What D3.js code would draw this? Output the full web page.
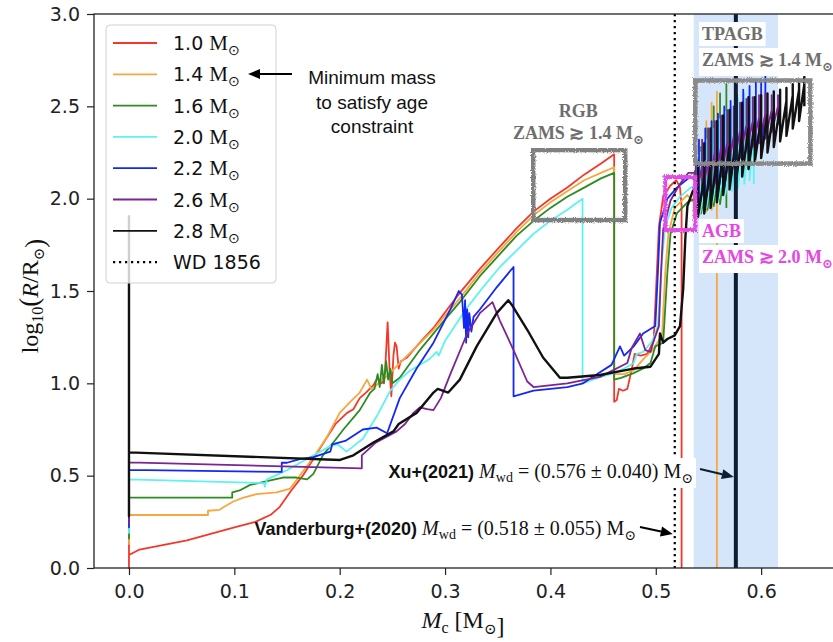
<!DOCTYPE html>
<html lang="en">
<head>
<meta charset="utf-8">
<title>Core mass vs radius</title>
<style>
body { margin: 0; background: #fff; }
svg { display: block; overflow: hidden; }
.tick text { font-family: "DejaVu Sans", sans-serif; font-size: 19px; fill: #222; }
.tick line { stroke: #222; stroke-width: 1.2; }
.serif { font-family: "Liberation Serif", "DejaVu Serif", serif; }
.sans { font-family: "Liberation Sans", Arial, sans-serif; }
</style>
</head>
<body>
<div id="chart"></div>
<script src="https://d3js.org/d3.v7.min.js"></script>
<script>
// initial masses and colours (legend order = drawing order)
const masses = ["1.0", "1.4", "1.6", "2.0", "2.2", "2.6", "2.8"];
const colors = ["#f5372a", "#f7a740", "#2e8b22", "#5ef2f2", "#1428f5", "#7b2595", "#111111"];

// [Mc, log10 R], pre-main-sequence spike through early AGB
const track10 = [[0,0.60],[0,0.0],[0,0.07],[0.01,0.10],[0.055,0.15],[0.10,0.22],[0.12,0.25],[0.135,0.29],[0.143,0.33],[0.154,0.42],[0.165,0.50],[0.176,0.60],[0.186,0.69],[0.196,0.78],[0.207,0.84],[0.213,0.86],[0.219,0.92],[0.225,0.95],[0.232,0.99],[0.236,1.03],[0.240,1.00],[0.243,1.06],[0.2455,1.33],[0.2475,1.05],[0.249,0.93],[0.251,1.15],[0.2525,1.22],[0.254,1.20],[0.256,1.08],[0.258,1.12],[0.264,1.14],[0.276,1.22],[0.289,1.30],[0.302,1.40],[0.314,1.49],[0.333,1.62],[0.352,1.74],[0.368,1.84],[0.384,1.93],[0.400,2.00],[0.416,2.06],[0.432,2.13],[0.448,2.19],[0.4605,2.24],[0.4605,0.90],[0.463,0.91],[0.465,0.97],[0.469,0.96],[0.473,0.97],[0.477,1.07],[0.480,1.16],[0.4855,1.15],[0.492,1.16],[0.498,1.23],[0.501,1.60],[0.503,1.85],[0.507,2.01],[0.5137,2.07],[0.5195,2.10],[0.523,2.06],[0.5245,1.96],[0.5245,0]];
const track14 = [[0,0.5],[0,0.13],[0,0.287],[0.075,0.287],[0.075,0.31],[0.086,0.315],[0.09,0.33],[0.099,0.36],[0.108,0.38],[0.121,0.40],[0.140,0.41],[0.153,0.43],[0.162,0.50],[0.175,0.60],[0.188,0.71],[0.200,0.84],[0.210,0.90],[0.219,0.95],[0.226,1.02],[0.230,0.97],[0.235,0.99],[0.245,1.04],[0.257,1.11],[0.273,1.20],[0.289,1.29],[0.302,1.38],[0.314,1.46],[0.333,1.60],[0.352,1.72],[0.368,1.82],[0.384,1.91],[0.400,1.98],[0.416,2.04],[0.432,2.10],[0.448,2.14],[0.4605,2.17],[0.4605,1.05],[0.470,1.05],[0.479,1.07],[0.488,1.13],[0.497,1.18],[0.506,1.26],[0.509,1.60],[0.512,1.81],[0.518,1.95],[0.530,2.02]];
const track16 = [[0,0.6],[0,0.16],[0,0.381],[0.098,0.381],[0.098,0.41],[0.105,0.42],[0.115,0.45],[0.131,0.47],[0.146,0.49],[0.159,0.49],[0.169,0.48],[0.175,0.51],[0.184,0.61],[0.194,0.68],[0.2035,0.75],[0.219,0.855],[0.229,0.95],[0.233,0.97],[0.236,1.05],[0.238,0.98],[0.240,1.10],[0.242,1.00],[0.244,1.12],[0.246,1.02],[0.248,1.08],[0.250,1.00],[0.257,1.03],[0.276,1.18],[0.302,1.36],[0.314,1.44],[0.333,1.58],[0.352,1.70],[0.368,1.80],[0.384,1.88],[0.400,1.95],[0.416,2.01],[0.432,2.06],[0.448,2.11],[0.4605,2.14],[0.4605,1.02],[0.467,1.03],[0.479,1.055],[0.488,1.08],[0.495,1.11],[0.4995,1.20],[0.507,1.22],[0.511,1.60],[0.514,1.81],[0.520,1.92],[0.530,1.98]];
const track20 = [[0,0.6],[0,0.19],[0,0.48],[0.128,0.46],[0.129,0.44],[0.131,0.48],[0.150,0.53],[0.169,0.59],[0.191,0.66],[0.198,0.67],[0.2065,0.63],[0.222,0.70],[0.235,0.82],[0.248,0.96],[0.257,1.02],[0.267,1.07],[0.273,1.09],[0.285,1.13],[0.292,1.17],[0.294,1.15],[0.300,1.23],[0.321,1.41],[0.336,1.52],[0.352,1.63],[0.368,1.72],[0.384,1.81],[0.400,1.88],[0.416,1.94],[0.4305,2.0],[0.4305,1.0],[0.445,1.03],[0.460,1.055],[0.470,1.08],[0.479,1.11],[0.482,1.16],[0.488,1.17],[0.497,1.23],[0.502,1.31],[0.506,1.68],[0.509,1.85],[0.515,1.95],[0.523,2.01],[0.533,2.06]];
const track22 = [[0,0.6],[0,0.22],[0,0.531],[0.145,0.52],[0.145,0.57],[0.150,0.57],[0.162,0.59],[0.175,0.60],[0.191,0.63],[0.193,0.67],[0.206,0.69],[0.222,0.75],[0.235,0.76],[0.245,0.73],[0.257,0.92],[0.273,1.08],[0.289,1.22],[0.305,1.40],[0.313,1.50],[0.316,1.48],[0.318,1.30],[0.319,1.45],[0.320,1.22],[0.321,1.40],[0.322,1.25],[0.323,1.38],[0.325,1.28],[0.327,1.36],[0.333,1.40],[0.349,1.52],[0.365,1.63],[0.365,0.93],[0.384,0.96],[0.416,0.98],[0.431,1.0],[0.447,1.06],[0.458,1.10],[0.466,1.20],[0.470,1.15],[0.479,1.20],[0.488,1.27],[0.4995,1.31],[0.502,1.60],[0.504,1.87],[0.511,2.0],[0.520,2.06],[0.533,2.12]];
const track26 = [[0,0.6],[0,0.24],[0,0.572],[0.221,0.54],[0.221,0.61],[0.2345,0.68],[0.254,0.74],[0.262,0.78],[0.270,0.84],[0.276,0.87],[0.283,0.86],[0.289,0.855],[0.296,0.92],[0.305,1.05],[0.321,1.27],[0.333,1.38],[0.345,1.44],[0.352,1.34],[0.365,1.18],[0.378,1.01],[0.384,0.98],[0.416,1.0],[0.447,1.035],[0.473,1.11],[0.477,1.19],[0.485,1.27],[0.490,1.18],[0.495,1.17],[0.498,1.23],[0.503,1.31],[0.505,1.60],[0.507,1.83],[0.514,1.99],[0.523,2.08],[0.531,2.14]];
const track28 = [[0,1.91],[0,0.28],[0,0.626],[0.2004,0.585],[0.213,0.61],[0.232,0.68],[0.251,0.74],[0.256,0.78],[0.273,0.84],[0.289,0.95],[0.293,0.97],[0.303,0.95],[0.314,1.02],[0.330,1.20],[0.349,1.38],[0.360,1.45],[0.364,1.42],[0.378,1.29],[0.393,1.14],[0.409,1.03],[0.416,1.03],[0.447,1.045],[0.479,1.08],[0.495,1.09],[0.503,1.16],[0.504,1.27],[0.507,1.22],[0.511,1.24],[0.518,1.26],[0.523,1.31],[0.526,1.51],[0.528,1.78],[0.530,1.96],[0.535,2.04]];

// thermal pulses: [Mc, baseline, pulse top, pulse bottom]
const pulses10 = [];
const pulses14 = [[0.536,1.98,2.08,1.90],[0.542,2.03,2.22,1.92],[0.548,2.08,2.42,1.93],[0.553,2.12,2.52,1.94],[0.558,2.15,2.58,0.0]];
const pulses16 = [[0.537,2.00,2.15,1.90],[0.543,2.06,2.28,1.92],[0.549,2.11,2.38,1.94],[0.555,2.15,2.50,1.96],[0.561,2.19,2.57,1.97],[0.567,2.23,2.62,1.95]];
const pulses20 = [[0.542,2.08,2.25,1.92],[0.548,2.12,2.32,1.95],[0.554,2.16,2.38,1.98],[0.560,2.20,2.43,2.00],[0.566,2.24,2.47,2.02],[0.572,2.27,2.50,2.04],[0.578,2.30,2.54,2.06],[0.584,2.33,2.57,2.08],[0.589,2.36,2.59,2.10],[0.593,2.38,2.55,2.08]];
const pulses22 = [[0.541,2.08,2.32,1.95],[0.547,2.13,2.38,1.98],[0.553,2.17,2.42,2.00],[0.559,2.21,2.46,2.03],[0.565,2.25,2.50,2.06],[0.571,2.28,2.53,2.10],[0.577,2.31,2.56,2.14],[0.583,2.34,2.59,2.18],[0.589,2.37,2.61,2.22],[0.595,2.40,2.63,2.26],[0.600,2.42,2.65,2.30],[0.604,2.44,2.67,2.32]];
const pulses26 = [[0.538,2.14,2.25,2.00],[0.544,2.18,2.32,2.02],[0.550,2.22,2.38,2.05],[0.556,2.25,2.42,2.08],[0.562,2.28,2.45,2.12],[0.568,2.31,2.48,2.15],[0.574,2.34,2.50,2.18],[0.580,2.37,2.52,2.22],[0.586,2.40,2.54,2.26],[0.592,2.42,2.55,2.28],[0.598,2.44,2.56,2.30],[0.604,2.46,2.57,2.33],[0.610,2.48,2.56,2.36],[0.616,2.50,2.56,2.40]];
const pulses28 = [[0.540,2.06,2.20,1.90],[0.546,2.12,2.30,1.92],[0.552,2.18,2.38,1.95],[0.558,2.22,2.42,1.98],[0.564,2.26,2.45,2.02],[0.570,2.29,2.48,2.05],[0.576,2.32,2.50,2.08],[0.582,2.36,2.52,2.12],[0.588,2.39,2.55,2.16],[0.594,2.42,2.55,2.20],[0.600,2.44,2.56,2.22],[0.606,2.46,2.57,2.25],[0.612,2.48,2.58,2.28],[0.618,2.50,2.59,2.31],[0.624,2.53,2.60,2.34],[0.630,2.56,2.62,2.38],[0.636,2.59,2.64,2.42],[0.641,2.62,2.66,2.50]];

const tracks = [track10, track14, track16, track20, track22, track26, track28];
const pulses = [pulses10, pulses14, pulses16, pulses20, pulses22, pulses26, pulses28];

// white dwarf mass measurements
const wd1856 = 0.518;
const xuMass = 0.576, xuErr = 0.040;

// phase boxes [Mc0, Mc1, R0, R1]
const rgbBox = [0.3837, 0.471, 1.884, 2.263];
const tpagbBox = [0.5375, 0.6467, 2.19, 2.64];
const agbBox = [0.509, 0.5375, 1.83, 2.117];

const xTicks = [0, 0.1, 0.2, 0.3, 0.4, 0.5, 0.6];
const yTicks = [0, 0.5, 1, 1.5, 2, 2.5, 3];

const width = 833, height = 642;
const svg = d3.select("#chart").append("svg")
  .attr("width", width).attr("height", height);

const defs = svg.append("defs");
const rough = defs.append("filter").attr("id", "rough")
  .attr("x", "-10%").attr("y", "-10%").attr("width", "120%").attr("height", "120%");
rough.append("feTurbulence").attr("type", "fractalNoise").attr("baseFrequency", 0.9)
  .attr("numOctaves", 2).attr("result", "n");
rough.append("feDisplacementMap").attr("in", "SourceGraphic").attr("in2", "n").attr("scale", 3.5);

const x = d3.scaleLinear().domain([-0.0332, 0.672]).range([94, 837]);
const y = d3.scaleLinear().domain([0, 3]).range([568, 14]);

// Xu+2021 error band
svg.append("rect")
  .attr("x", x(xuMass - xuErr)).attr("y", y(3))
  .attr("width", x(xuMass + xuErr) - x(xuMass - xuErr))
  .attr("height", y(0) - y(3))
  .attr("fill", "#d5e6fa");

// evolutionary tracks
const line = d3.line().x(d => x(d[0])).y(d => y(d[1]));
tracks.forEach((t, i) => {
  const pts = t.concat(pulses[i].flatMap(p => [[p[0], p[1]], [p[0], p[2]], [p[0], p[3]]]));
  svg.append("path")
    .attr("d", line(pts))
    .attr("fill", "none")
    .attr("stroke", colors[i])
    .attr("stroke-width", i === 6 ? 2.4 : 1.8)
    .attr("stroke-linejoin", "round");
});

// WD 1856 dotted line and Xu thick line
svg.append("line")
  .attr("x1", x(wd1856)).attr("x2", x(wd1856)).attr("y1", y(3)).attr("y2", y(0))
  .attr("stroke", "#000").attr("stroke-width", 2.2).attr("stroke-dasharray", "2.2,3.8");
svg.append("line")
  .attr("x1", x(xuMass)).attr("x2", x(xuMass)).attr("y1", y(3)).attr("y2", y(0))
  .attr("stroke", "#0f1d33").attr("stroke-width", 4);

// phase boxes
function box(b, color, w) {
  svg.append("rect")
    .attr("x", x(b[0])).attr("y", y(b[3]))
    .attr("width", x(b[1]) - x(b[0])).attr("height", y(b[2]) - y(b[3]))
    .attr("fill", "none").attr("stroke", color).attr("stroke-width", w)
    .attr("filter", "url(#rough)");
}
box(rgbBox, "#808080", 4.5);
box(tpagbBox, "#8a8a8a", 4.5);
box(agbBox, "#e24ce6", 4);

// text, optionally with a white background box
function boxedText(px, py, anchor, build, pad) {
  const g = svg.append("g");
  const t = g.append("text").attr("x", px).attr("y", py).attr("text-anchor", anchor);
  build(t);
  if (pad === null) return g;
  const bb = t.node().getBBox();
  g.insert("rect", "text")
    .attr("x", bb.x - pad).attr("y", bb.y - pad + 1)
    .attr("width", bb.width + 2 * pad).attr("height", bb.height + 2 * pad - 2)
    .attr("fill", "#fff");
  return g;
}
function sun(t, size, shift) {
  t.append("tspan").attr("dy", shift).attr("font-size", size).text("\u2299");
  t.append("tspan").attr("dy", -shift).text("");
}
function zams(t, m) {
  t.append("tspan").text("ZAMS \u2273 " + m + " M");
  sun(t, 13, 5);
}

// phase labels
function phaseStyle(t, color) {
  return t.attr("class", "serif").attr("font-weight", "bold").attr("font-size", 18).attr("fill", color);
}
boxedText(x(0.4265), 117, "middle", t => phaseStyle(t, "#6e6e6e").text("RGB"), 2);
boxedText(x(0.4265), 139, "middle", t => zams(phaseStyle(t, "#6e6e6e"), "1.4"), 2);
boxedText(702, 40, "start", t => phaseStyle(t, "#6e6e6e").text("TPAGB"), 3);
boxedText(702, 66, "start", t => zams(phaseStyle(t, "#6e6e6e"), "1.4"), 3);
boxedText(702, 237, "start", t => phaseStyle(t, "#e646e6").text("AGB"), 3);
boxedText(702, 263, "start", t => zams(phaseStyle(t, "#e646e6"), "2.0"), 3);

// measurement labels
function measure(t, who, val) {
  t.attr("class", "serif").attr("font-size", 20).attr("fill", "#111");
  t.append("tspan").attr("font-family", "Liberation Sans Narrow, Liberation Sans, sans-serif")
    .attr("font-weight", "bold").attr("font-size", 18).text(who + " ");
  t.append("tspan").attr("font-style", "italic").text("M");
  t.append("tspan").attr("font-size", 14).attr("dy", 4).text("wd");
  t.append("tspan").attr("dy", -4).text(" = (" + val + ") M");
  sun(t, 14, 5);
}
boxedText(693, 478, "end", t => measure(t, "Xu+(2021)", "0.576 \u00b1 0.040"), 3);
boxedText(636, 535, "end", t => measure(t, "Vanderburg+(2020)", "0.518 \u00b1 0.055"), null);

// axes
const xAxis = svg.append("g").attr("transform", `translate(0,${y(0)})`)
  .call(d3.axisBottom(x).tickValues(xTicks).tickFormat(d3.format(".1f")).tickSize(7).tickPadding(10));
xAxis.select(".domain").remove();
const yAxis = svg.append("g").attr("transform", `translate(${x.range()[0]},0)`)
  .call(d3.axisLeft(y).tickValues(yTicks).tickFormat(d3.format(".1f")).tickSize(7).tickPadding(7));
yAxis.select(".domain").remove();

svg.append("rect")
  .attr("x", x.range()[0]).attr("y", y(3))
  .attr("width", x.range()[1] - x.range()[0]).attr("height", y(0) - y(3))
  .attr("fill", "none").attr("stroke", "#222").attr("stroke-width", 1.3);

// axis titles
const xl = svg.append("text").attr("class", "serif").attr("font-size", 24)
  .attr("x", 463).attr("y", 628).attr("text-anchor", "middle").attr("fill", "#111");
xl.append("tspan").attr("font-style", "italic").text("M");
xl.append("tspan").attr("font-size", 16).attr("dy", 5).text("c");
xl.append("tspan").attr("dy", -5).text(" [M");
sun(xl, 15, 6);
xl.append("tspan").text("]");

const yl = svg.append("text").attr("class", "serif").attr("font-size", 24)
  .attr("transform", "translate(38,296) rotate(-90)").attr("text-anchor", "middle").attr("fill", "#111");
yl.append("tspan").text("log");
yl.append("tspan").attr("font-size", 16).attr("dy", 5).text("10");
yl.append("tspan").attr("dy", -5).attr("font-size", 27).text("(");
yl.append("tspan").attr("font-style", "italic").text("R");
yl.append("tspan").text("/R");
sun(yl, 15, 6);
yl.append("tspan").attr("font-size", 27).text(")");

// legend
const lg = svg.append("g");
lg.append("rect").attr("x", 106).attr("y", 25).attr("width", 170).attr("height", 258)
  .attr("rx", 4).attr("fill", "#fff").attr("fill-opacity", 0.8)
  .attr("stroke", "#d0d0d0").attr("stroke-width", 1);
const entries = masses.map((m, i) => ({ label: m, color: colors[i], dash: null }))
  .concat([{ label: "WD 1856", color: "#000", dash: "2.2,3.8" }]);
entries.forEach((e, i) => {
  const cy = 43 + i * 31.3;
  lg.append("line").attr("x1", 113).attr("x2", 157).attr("y1", cy).attr("y2", cy)
    .attr("stroke", e.color).attr("stroke-width", e.dash ? 2.2 : 1.8)
    .attr("stroke-dasharray", e.dash);
  const t = lg.append("text").attr("x", 173).attr("y", cy + 7).attr("font-size", 19).attr("fill", "#111");
  if (e.dash) {
    t.attr("font-family", "DejaVu Sans, sans-serif").text(e.label);
  } else {
    t.append("tspan").attr("font-family", "DejaVu Sans, sans-serif").text(e.label + " ");
    t.append("tspan").attr("class", "serif").attr("font-size", 21).text("M");
    sun(t, 14, 5);
  }
});

// arrows (drawn above the legend)
function arrow(x1, y1, x2, y2, color) {
  const a = Math.atan2(y2 - y1, x2 - x1), L = 12, W = 5;
  const bx = x2 - L * Math.cos(a), by = y2 - L * Math.sin(a);
  svg.append("line").attr("x1", x1).attr("y1", y1).attr("x2", bx).attr("y2", by)
    .attr("stroke", color).attr("stroke-width", 2);
  svg.append("path")
    .attr("d", `M${x2},${y2}L${bx + W * Math.sin(a)},${by - W * Math.cos(a)}L${bx - W * Math.sin(a)},${by + W * Math.cos(a)}Z`)
    .attr("fill", color);
}
arrow(700, 469, x(xuMass) - 2, 477, "#0f1d33");
arrow(640, 527, x(wd1856) - 2, 534, "#000");
arrow(292, 74, 248, 74, "#000");

const note = svg.append("text").attr("class", "sans").attr("font-size", 19)
  .attr("text-anchor", "middle").attr("fill", "#111");
["Minimum mass", "to satisfy age", "constraint"].forEach((s, i) =>
  note.append("tspan").attr("x", 372).attr("y", 84 + i * 24.5).text(s));
</script>
</body>
</html>
